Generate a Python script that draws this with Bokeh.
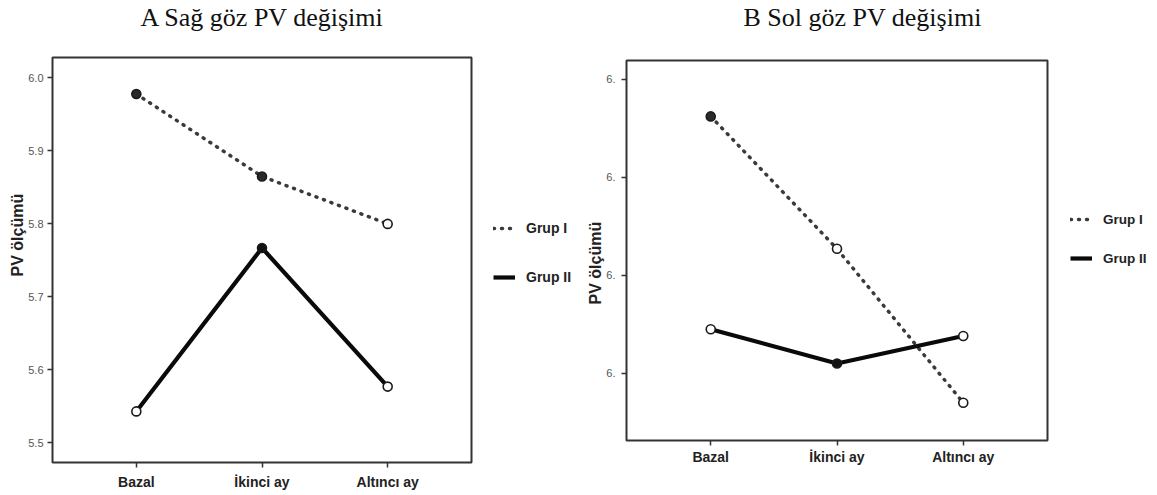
from bokeh.plotting import figure
from bokeh.models import Range1d, FixedTicker, Legend, LegendItem, ColumnDataSource, Title
from bokeh.embed import file_html
from bokeh.resources import INLINE

# Measurement occasions
categories = ["Bazal", "İkinci ay", "Altıncı ay"]

# A: right eye PV
sag_grup1 = [5.978, 5.865, 5.800]
sag_grup2 = [5.543, 5.767, 5.577]
sag_ticks = [5.5, 5.6, 5.7, 5.8, 5.9, 6.0]
sag_tick_labels = ["5.5", "5.6", "5.7", "5.8", "5.9", "6.0"]

# B: left eye PV (axis labels are truncated to "6.")
sol_grup1 = [6.462, 6.327, 6.170]
sol_grup2 = [6.245, 6.210, 6.238]
sol_ticks = [6.2, 6.3, 6.4, 6.5]
sol_tick_labels = ["6.", "6.", "6.", "6."]

# marker fill style for each point (filled / hollow)
sag_fill1 = ["#2a2a2a", "#2a2a2a", "white"]
sag_fill2 = ["white", "#111111", "white"]
sol_fill1 = ["#2a2a2a", "white", "white"]
sol_fill2 = ["white", "#111111", "white"]

SANS = "Liberation Sans"
SERIF = "Liberation Serif"


def panel(title, g1, g2, fill1, fill2, ticks, tick_labels, y_rng, frame, left_px,
          borders, title_offset, spacer_standoff, ylabel_offset, legend_margin,
          legend_drop, legend_spacing, legend_font, tick_standoff, xlabel_standoff):
    xs = list(range(len(categories)))
    total_w = borders[0] + frame[0] + borders[1]
    p = figure(frame_width=frame[0], frame_height=frame[1],
               output_backend="svg", toolbar_location=None,
               x_range=Range1d(-0.667, len(categories) - 1 + 0.667),
               y_range=Range1d(*y_rng),
               min_border_left=borders[0], min_border_right=borders[1],
               min_border_top=borders[2], min_border_bottom=borders[3])
    p.styles = {"position": "absolute", "left": f"{left_px}px", "top": "0px",
                "width": f"{total_w}px", "height": "495px"}
    p.background_fill_color = "white"
    p.border_fill_color = "white"
    p.outline_line_color = "#333333"
    p.outline_line_width = 2
    p.grid.visible = False

    p.title.text = title
    p.title.text_font = SERIF
    p.title.text_font_style = "normal"
    p.title.text_font_size = "26px"
    p.title.text_color = "#111111"
    p.title.align = "left"
    p.title.offset = title_offset
    p.title.vertical_align = "top"
    p.title.standoff = 4

    # blank band between the heading and the plot frame
    p.add_layout(Title(text=" ", text_font_size="10px",
                       standoff=spacer_standoff), "above")

    s1 = ColumnDataSource(dict(x=xs, y=g1, fill=fill1))
    s2 = ColumnDataSource(dict(x=xs, y=g2, fill=fill2))

    r1 = p.line("x", "y", source=s1, line_color="#3a3a3a", line_width=3.5,
                line_dash="1 7", line_cap="round")
    r2 = p.line("x", "y", source=s2, line_color="#0a0a0a", line_width=4.2)
    p.scatter("x", "y", source=s1, size=9, fill_color="fill",
              line_color="#1a1a1a", line_width=1.6)
    p.scatter("x", "y", source=s2, size=9, fill_color="fill",
              line_color="#1a1a1a", line_width=1.6)

    # axes
    for ax in (p.xaxis[0], p.yaxis[0]):
        ax.axis_line_color = None
        ax.major_tick_line_color = "#333333"
        ax.major_tick_line_width = 1.5
        ax.major_tick_out = 5
        ax.major_tick_in = 0
        ax.minor_tick_line_color = None

    p.xaxis.ticker = FixedTicker(ticks=xs)
    p.xaxis.major_label_overrides = {i: c for i, c in zip(xs, categories)}
    p.xaxis.major_label_text_font = SANS
    p.xaxis.major_label_text_font_style = "bold"
    p.xaxis.major_label_text_font_size = "14px"
    p.xaxis.major_label_text_color = "#222222"
    p.xaxis.major_label_standoff = xlabel_standoff

    p.yaxis.ticker = FixedTicker(ticks=ticks)
    p.yaxis.major_label_overrides = {t: l for t, l in zip(ticks, tick_labels)}
    p.yaxis.major_label_text_font = SANS
    p.yaxis.major_label_text_font_size = "11px"
    p.yaxis.major_label_text_color = "#555555"
    p.yaxis.major_label_standoff = tick_standoff

    # y-axis caption, placed off-centre along the axis
    ylab = Title(text="PV ölçümü", text_font=SANS, text_font_style="bold",
                 text_font_size="16px", text_color="#222222", align="left",
                 offset=ylabel_offset, vertical_align="bottom", standoff=0)
    p.add_layout(ylab, "left")

    legend = Legend(items=[LegendItem(label="Grup I", renderers=[r1]),
                           LegendItem(label="Grup II", renderers=[r2])],
                    location="top_left", orientation="vertical",
                    padding=0, margin=legend_margin, spacing=legend_spacing,
                    glyph_width=22, glyph_height=20, label_height=20,
                    label_standoff=11, border_line_color=None,
                    background_fill_alpha=0,
                    title=" ", title_text_font_size="10px",
                    title_standoff=legend_drop)
    legend.label_text_font = SANS
    legend.label_text_font_style = "bold"
    legend.label_text_font_size = legend_font
    legend.label_text_color = "#222222"
    p.add_layout(legend, "right")
    return p


left = panel("A Sağ göz PV değişimi", sag_grup1, sag_grup2, sag_fill1, sag_fill2,
             sag_ticks, sag_tick_labels, (5.473, 6.028), (419, 405), 0,
             (52, 109, 56, 34), 88, 9, 186, 22, 128, 29, "14px", 4, 6)
right = panel("B Sol göz PV değişimi", sol_grup1, sol_grup2, sol_fill1, sol_fill2,
              sol_ticks, sol_tick_labels, (6.1315, 6.519), (421, 380), 580,
              (46, 110, 59, 56), 117, 12, 136, 23, 115, 19, "13.5px", 6, 3)

open("out.html", "w").write(file_html([left, right], INLINE))
